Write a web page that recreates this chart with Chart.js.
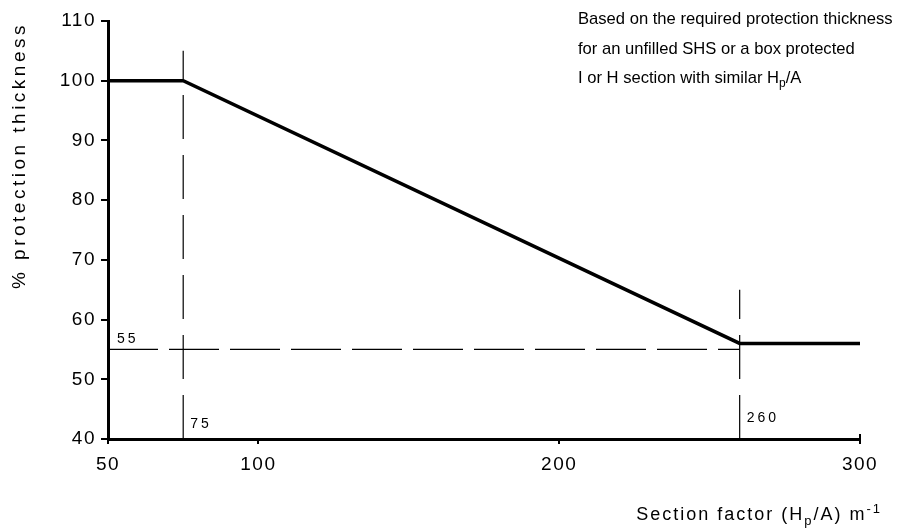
<!DOCTYPE html>
<html>
<head>
<meta charset="utf-8">
<script src="https://cdn.jsdelivr.net/npm/chart.js@4.4.1/dist/chart.umd.min.js"></script>
<style>
  html, body { margin: 0; padding: 0; background: #fff; }
  #wrap { width: 917px; height: 530px; position: relative; }
</style>
</head>
<body>
<div id="wrap"><canvas id="chart"></canvas></div>
<script>
// Section factor (Hp/A) vs % protection thickness
const sectionFactor = [50, 75, 260, 300];
const protectionPct = [100, 100, 56, 56];

// Dashed guide lines
const guideX75 = [75, 75];
const guideY75 = [40, 105];
const guideX260 = [260, 260];
const guideY260 = [40, 65];
const guideX55 = [50, 260];
const guideY55 = [55, 55];

const xTickValues = [50, 100, 200, 300];
const yTickValues = [40, 50, 60, 70, 80, 90, 100, 110];

const noteLines = [
  [{ t: "Based on the required protection thickness" }],
  [{ t: "for an unfilled SHS or a box protected" }],
  [{ t: "I or H section with similar H" }, { t: "p", sub: true }, { t: "/A" }]
];

const FONT = '"Liberation Sans", Arial, Helvetica, sans-serif';
const toPts = (xs, ys) => xs.map((x, i) => ({ x: x, y: ys[i] }));

// draw text made of normal / sub / superscript pieces
const drawRich = (ctx, parts, x, y, size, align) => {
  const fontFor = (p) => `${(p.sub || p.sup) ? Math.round(size * 0.7) : size}px ${FONT}`;
  let total = 0;
  parts.forEach((p) => { ctx.font = fontFor(p); total += ctx.measureText(p.t).width; });
  let cx = align === "right" ? x - total : x;
  ctx.textAlign = "left";
  parts.forEach((p) => {
    ctx.font = fontFor(p);
    const dy = p.sub ? size * 0.25 : p.sup ? -size * 0.4 : 0;
    ctx.fillText(p.t, cx, y + dy);
    cx += ctx.measureText(p.t).width;
  });
};

const textPlugin = {
  id: "texts",
  beforeDraw(chart) {
    chart.ctx.letterSpacing = "1.5px";
  },
  afterDraw(chart) {
    const { ctx, chartArea, scales } = chart;
    const xs = scales.x, ys = scales.y;
    ctx.save();
    ctx.fillStyle = "#000";
    ctx.textBaseline = "alphabetic";

    // small tick going up at the end of the x axis
    ctx.strokeStyle = "#000";
    ctx.lineWidth = 2;
    ctx.beginPath();
    ctx.moveTo(xs.getPixelForValue(300), ys.getPixelForValue(40));
    ctx.lineTo(xs.getPixelForValue(300), ys.getPixelForValue(40) - 5);
    ctx.stroke();

    // small value labels on the guides
    ctx.letterSpacing = "3px";
    ctx.font = `14px ${FONT}`;
    ctx.textAlign = "left";
    ctx.fillText("55", xs.getPixelForValue(50) + 9, ys.getPixelForValue(55) - 6);
    ctx.fillText("75", xs.getPixelForValue(75) + 7, ys.getPixelForValue(40) - 11);
    ctx.fillText("260", xs.getPixelForValue(260) + 7, ys.getPixelForValue(40) - 17);

    // note at top right
    ctx.letterSpacing = "0px";
    noteLines.forEach((line, i) => drawRich(ctx, line, 578, 24 + i * 29.5, 16.6, "left"));

    // x axis title
    ctx.letterSpacing = "2px";
    drawRich(ctx, [{ t: "Section factor (H" }, { t: "p", sub: true }, { t: "/A) m" }, { t: "-1", sup: true }],
      882, 520, 18, "right");

    // y axis title, rotated
    ctx.translate(25, chartArea.top + 1);
    ctx.rotate(-Math.PI / 2);
    ctx.letterSpacing = "3.5px";
    ctx.font = `19px ${FONT}`;
    ctx.textAlign = "right";
    ctx.fillText("% protection thickness", 0, 0);
    ctx.restore();
  }
};

const lineStyle = (data, width, dash) => ({
  data: data,
  borderColor: "#000",
  borderWidth: width,
  borderDash: dash,
  pointRadius: 0,
  fill: false,
  tension: 0
});

new Chart(document.getElementById("chart"), {
  type: "line",
  data: {
    datasets: [
      lineStyle(toPts(guideX55, guideY55), 1.2, [50, 11]),
      lineStyle(toPts(guideX75, guideY75), 1.2, [44, 16]),
      lineStyle(toPts(guideX260, guideY260), 1.2, [44, 16]),
      lineStyle(toPts(sectionFactor, protectionPct), 3.5, [])
    ]
  },
  options: {
    responsive: true,
    maintainAspectRatio: false,
    animation: false,
    events: [],
    layout: { padding: { top: 21, right: 57, bottom: 0, left: 0 } },
    plugins: { legend: { display: false }, tooltip: { enabled: false } },
    scales: {
      x: {
        type: "linear",
        min: 50,
        max: 300,
        afterBuildTicks: (s) => { s.ticks = xTickValues.map((v) => ({ value: v })); },
        afterFit: (s) => { s.height = 91; },
        border: { display: true, color: "#000", width: 3 },
        grid: { drawOnChartArea: false, color: "#000", lineWidth: 2, tickLength: 5 },
        ticks: { color: "#000", font: { family: FONT, size: 19 }, padding: 9, maxRotation: 0 }
      },
      y: {
        min: 40,
        max: 110,
        afterBuildTicks: (s) => { s.ticks = yTickValues.map((v) => ({ value: v })); },
        afterFit: (s) => { s.width = 108; },
        border: { display: true, color: "#000", width: 3 },
        grid: { drawOnChartArea: false, color: "#000", lineWidth: 2, tickLength: 7 },
        ticks: { color: "#000", font: { family: FONT, size: 19 }, padding: 5 }
      }
    }
  },
  plugins: [textPlugin]
});
</script>
</body>
</html>
